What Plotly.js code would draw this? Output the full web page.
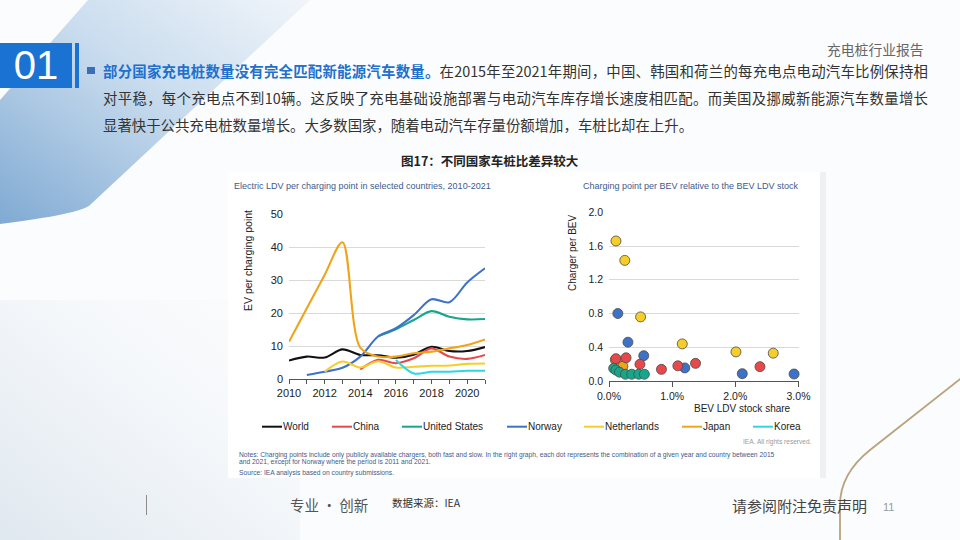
<!DOCTYPE html>
<html>
<head>
<meta charset="utf-8">
<script src="https://cdn.plot.ly/plotly-3.0.1.min.js"></script>
<style>
html,body{margin:0;padding:0;width:960px;height:540px;overflow:hidden;background:#fbfcfd;}
#bg{position:absolute;left:0;top:0;width:960px;height:540px;}
#chart{position:absolute;left:0;top:0;width:960px;height:540px;}
.t{position:absolute;font-family:"Noto Sans CJK SC","Noto Sans",sans-serif;white-space:nowrap;}
.line{position:absolute;left:103px;width:825px;height:20px;line-height:20px;font-size:14.4px;color:#333;
  font-family:"Noto Sans CJK SC",sans-serif;text-align:justify;text-align-last:justify;white-space:nowrap;}
.line.last{text-align-last:left;}
</style>
</head>
<body>
<svg id="bg" width="960" height="540" xmlns="http://www.w3.org/2000/svg">
  <defs>
    <linearGradient id="band" x1="1" y1="0" x2="0" y2="1">
      <stop offset="0" stop-color="#f1f5fa"/>
      <stop offset="0.45" stop-color="#c9dcee"/>
      <stop offset="1" stop-color="#80aad3"/>
    </linearGradient>
    <linearGradient id="haze" x1="0" y1="1" x2="1" y2="0">
      <stop offset="0" stop-color="#d9e3ec"/>
      <stop offset="0.6" stop-color="#f4f7fa"/>
      <stop offset="1" stop-color="#fbfcfd"/>
    </linearGradient>
  </defs>
  <rect x="0" y="0" width="960" height="540" fill="#fbfcfd"/>
  <rect x="0" y="300" width="300" height="240" fill="url(#haze)" opacity="0.8"/>
  <path d="M88 0 L310 0 L90 205 Q80 214 0 224 L0 100 Z" fill="url(#band)"/>
  <path d="M964 376 L870 450 Q840 474 840 505 L840 542" fill="none" stroke="#b9a27e" stroke-width="1.8"/>
  <rect x="0" y="43" width="72" height="45" fill="#1a73d2"/>
  <rect x="75" y="43" width="4" height="45" fill="#1a73d2"/>
  <rect x="87" y="67" width="8" height="7" fill="#3a6fb8"/>
  <line x1="146.5" y1="495" x2="146.5" y2="515" stroke="#8a8a8a" stroke-width="1"/>
</svg>

<div class="t" style="left:0;top:43px;width:72px;height:45px;line-height:45px;text-align:center;color:#fff;font-family:'Liberation Sans',Arial,sans-serif;font-size:40px;">01</div>
<div class="t" style="left:827px;top:39px;font-size:13.8px;color:#666;line-height:20px;">充电桩行业报告</div>

<div class="line" style="top:61px;"><span style="font-weight:bold;color:#2170cc;">部分国家充电桩数量没有完全匹配新能源汽车数量。</span>在2015年至2021年期间，中国、韩国和荷兰的每充电点电动汽车比例保持相</div>
<div class="line" style="top:88px;">对平稳，每个充电点不到10辆。这反映了充电基础设施部署与电动汽车库存增长速度相匹配。而美国及挪威新能源汽车数量增长</div>
<div class="line last" style="top:115px;">显著快于公共充电桩数量增长。大多数国家，随着电动汽车存量份额增加，车桩比却在上升。</div>

<div class="t" style="left:290px;top:495px;font-size:14.5px;color:#555;line-height:20px;">专业&#8201;·&#8201;创新</div>
<div class="t" style="left:392px;top:495px;font-size:10.5px;color:#333;line-height:16px;">数据来源：IEA</div>
<div class="t" style="left:732px;top:496px;font-size:15px;color:#444;line-height:20px;">请参阅附注免责声明</div>
<div class="t" style="left:883px;top:499px;font-size:11px;color:#999;line-height:16px;font-family:'Liberation Sans',Arial,sans-serif;">11</div>

<div id="chart"></div>
<script>
// ---------- Data ----------
const years = [2010, 2011, 2012, 2013, 2014, 2015, 2016, 2017, 2018, 2019, 2020, 2021];
const seriesNames = ["World", "China", "United States", "Norway", "Netherlands", "Japan", "Korea"];
const world        = [5.6, 6.8, 6.5, 9.0, 7.3, 7.2, 6.5, 7.4, 9.8, 8.5, 8.5, 9.7];
const china        = [null, null, null, null, 2.9, 5.8, 4.8, 6.3, 9.3, 6.8, 6.1, 7.3];
const unitedStates = [null, null, null, null, null, 13.0, 15.1, 17.9, 20.6, 18.9, 18.1, 18.2];
const norway       = [null, 1.2, 2.2, 3.4, 6.8, 12.9, 15.4, 19.4, 24.2, 23.3, 29.3, 33.6];
const netherlands  = [null, null, 2.2, 5.3, 3.5, 5.4, 3.5, 3.7, 4.0, 4.1, 4.6, 4.7];
const japan        = [11.3, 21.5, 31.6, 41.5, 9.5, 6.8, 6.8, 7.8, 8.3, 9.3, 10.3, 12.0];
const korea        = [null, null, null, null, null, null, 5.8, 1.7, 2.2, 2.2, 2.5, 2.5];
const lineValues = [world, china, unitedStates, norway, netherlands, japan, korea];

// right graph: BEV LDV stock share (%) vs charger per BEV
const netherlandsShare = [0.11, 0.25, 0.50, 1.16, 2.01, 2.60];
const netherlandsRatio = [1.66, 1.43, 0.76, 0.44, 0.345, 0.33];
const norwayShare = [0.14, 0.30, 0.55, 1.20, 2.11, 2.93];
const norwayRatio = [0.80, 0.46, 0.30, 0.155, 0.087, 0.083];
const japanShare = [0.10, 0.18, 0.22];
const japanRatio = [0.25, 0.21, 0.175];
const chinaShare = [0.11, 0.27, 0.49, 0.83, 1.09, 1.37, 2.39];
const chinaRatio = [0.265, 0.275, 0.198, 0.138, 0.180, 0.209, 0.170];
const usShare = [0.074, 0.11, 0.165, 0.26, 0.36, 0.47, 0.56];
const usRatio = [0.15, 0.13, 0.105, 0.08, 0.08, 0.08, 0.08];

const leftTicks = [2010, 2012, 2014, 2016, 2018, 2020];
const notesLines = [
  "Notes: Charging points include only publicly available chargers, both fast and slow. In the right graph, each dot represents the combination of a given year and country between 2015",
  "and 2021, except for Norway where the period is 2011 and 2021.",
  "Source: IEA analysis based on country submissions."
];

// ---------- Style ----------
const colors = ["#111111", "#e8484b", "#17a68a", "#3d72c9", "#f6cd2a", "#efa41a", "#2cd8e2"];
const W = 960, H = 540;
const px = x => x / W;
const py = y => 1 - y / H;
const FONT = "Liberation Sans, Arial, sans-serif";
const CJK = "Noto Sans CJK SC, sans-serif";

const traces = [];
seriesNames.forEach((name, i) => {
  traces.push({
    type: "scatter", mode: "lines", name: name,
    x: years, y: lineValues[i], xaxis: "x", yaxis: "y",
    line: {color: colors[i], width: 2.1, shape: "spline", smoothing: 0.9},
    connectgaps: false, showlegend: false, hoverinfo: "skip"
  });
});

const scatterSets = [
  {x: netherlandsShare, y: netherlandsRatio, c: colors[4]},
  {x: norwayShare, y: norwayRatio, c: colors[3]},
  {x: japanShare, y: japanRatio, c: colors[5]},
  {x: chinaShare, y: chinaRatio, c: colors[1]},
  {x: usShare, y: usRatio, c: colors[2]}
];
scatterSets.forEach(s => {
  traces.push({
    type: "scatter", mode: "markers", x: s.x, y: s.y, xaxis: "x2", yaxis: "y2",
    marker: {color: s.c, size: 10, line: {color: "#4a4a4a", width: 0.8}},
    showlegend: false, hoverinfo: "skip", cliponaxis: false
  });
});

const annotations = [];
const shapes = [];
function txt(text, x, y, opts) {
  annotations.push(Object.assign({
    text: text, x: px(x), y: py(y), xref: "paper", yref: "paper",
    showarrow: false, xanchor: "left", yanchor: "middle",
    font: {family: FONT, size: 10, color: "#222"}
  }, opts || {}));
}

// chart panel (white)
shapes.push({type: "rect", xref: "paper", yref: "paper", x0: px(228), x1: px(820), y0: py(478), y1: py(172),
  fillcolor: "#ffffff", line: {width: 0}, layer: "below"});
shapes.push({type: "rect", xref: "paper", yref: "paper", x0: px(820), x1: px(826), y0: py(478), y1: py(172),
  fillcolor: "#eef0f2", line: {width: 0}, layer: "below"});

// caption
txt("<b>图17：不同国家车桩比差异较大</b>", 490, 160, {xanchor: "center", font: {family: CJK, size: 12.5, color: "#222"}});
// chart titles
txt("Electric LDV per charging point in selected countries, 2010-2021", 232, 186, {font: {family: FONT, size: 9, color: "#3b5b8e"}});
txt("Charging point per BEV relative to the BEV LDV stock", 581, 186, {font: {family: FONT, size: 9, color: "#3b5b8e"}});
// axis titles
txt("EV per charging point", 248, 261, {xanchor: "center", textangle: -90, font: {family: FONT, size: 10.5, color: "#222"}});
txt("Charger per BEV", 572, 253, {xanchor: "center", textangle: -90, font: {family: FONT, size: 10, color: "#222"}});
txt("BEV LDV stock share", 742, 408, {xanchor: "center", font: {family: FONT, size: 10, color: "#222"}});

// legend (built from series names/colours)
const legendX = [262, 332, 402, 507, 584, 682, 753];
seriesNames.forEach((name, i) => {
  shapes.push({type: "line", xref: "paper", yref: "paper", x0: px(legendX[i]), x1: px(legendX[i] + 20),
    y0: py(426.7), y1: py(426.7), line: {color: colors[i], width: 2}});
  txt(name, legendX[i] + 19, 426.7, {font: {family: FONT, size: 10, color: "#222"}});
});

txt("IEA. All rights reserved.", 814, 442.3, {xanchor: "right", font: {family: FONT, size: 6.6, color: "#9a9a9a"}});
const noteY = [455.3, 461.5, 473.3];
notesLines.forEach((t, i) => txt(t, 237, noteY[i], {font: {family: FONT, size: 6.7, color: "#3f5a87"}}));

const axisFont = {family: FONT, size: 11, color: "#222"};
const layout = {
  width: W, height: H, margin: {l: 0, r: 0, t: 0, b: 0},
  paper_bgcolor: "rgba(0,0,0,0)", plot_bgcolor: "rgba(0,0,0,0)",
  showlegend: false,
  xaxis: {domain: [px(289), px(485)], range: [2010, 2021], tickvals: leftTicks, ticks: "outside", ticklen: 4,
    tickcolor: "#555", showline: true, linecolor: "#555", linewidth: 1, showgrid: false, zeroline: false,
    tickfont: axisFont, minor: {dtick: 1, ticks: "outside", ticklen: 4, tickcolor: "#555", showgrid: false},
    anchor: "y", fixedrange: true},
  yaxis: {domain: [py(379), py(214.3)], range: [0, 50], dtick: 10, showgrid: true, gridcolor: "#d9d9d9",
    gridwidth: 1, zeroline: false, showline: false, ticks: "", tickfont: axisFont, ticklabelstandoff: 5,
    anchor: "x", fixedrange: true},
  xaxis2: {domain: [px(609), px(798.5)], range: [0, 3], dtick: 1, tickformat: ".1f", ticksuffix: "%",
    ticks: "outside", ticklen: 5, tickcolor: "#555", showline: true, linecolor: "#555", linewidth: 1,
    showgrid: false, zeroline: false, tickfont: {family: FONT, size: 10.5, color: "#222"}, anchor: "y2", fixedrange: true},
  yaxis2: {domain: [py(381), py(212.3)], range: [0, 2], dtick: 0.4, tickformat: ".1f", showgrid: true,
    gridcolor: "#d9d9d9", gridwidth: 1, zeroline: false, showline: false, ticks: "",
    tickfont: {family: FONT, size: 10.5, color: "#222"}, ticklabelstandoff: 5, anchor: "x2", fixedrange: true},
  shapes: shapes,
  annotations: annotations
};

Plotly.newPlot("chart", traces, layout, {displayModeBar: false, staticPlot: true});
</script>
</body>
</html>
